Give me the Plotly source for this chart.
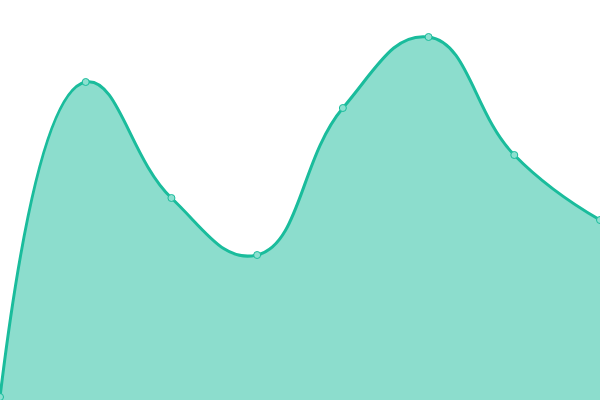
import plotly.graph_objects as go

# x positions are category indices
labels = ["1", "2", "3", "4", "5", "6", "7", "8"]
values = [3, 318, 202, 145, 292, 363, 245, 180]

line_color = "#1abc9c"

fig = go.Figure()
fig.add_trace(
    go.Scatter(
        x=list(range(len(labels))),
        y=values,
        mode="lines+markers",
        line={"color": line_color, "width": 3, "shape": "spline", "smoothing": 1.3},
        fill="tozeroy",
        fillcolor="rgba(26,188,156,0.5)",
        marker={
            "size": 7,
            "color": "rgba(140,224,208,1)",
            "line": {"color": line_color, "width": 1},
        },
        hoverinfo="skip",
    )
)

fig.update_layout(
    width=600,
    height=400,
    margin={"l": 0, "r": 0, "t": 0, "b": 0},
    plot_bgcolor="white",
    paper_bgcolor="white",
    showlegend=False,
    xaxis={"range": [0, len(labels) - 1], "visible": False},
    yaxis={"range": [0, 400], "visible": False},
)

# drop the default page margin so the chart sits at the window's corner
fig.write_html(
    "out.html",
    config={"displayModeBar": False},
    post_script="document.body.style.margin = '0';",
)
